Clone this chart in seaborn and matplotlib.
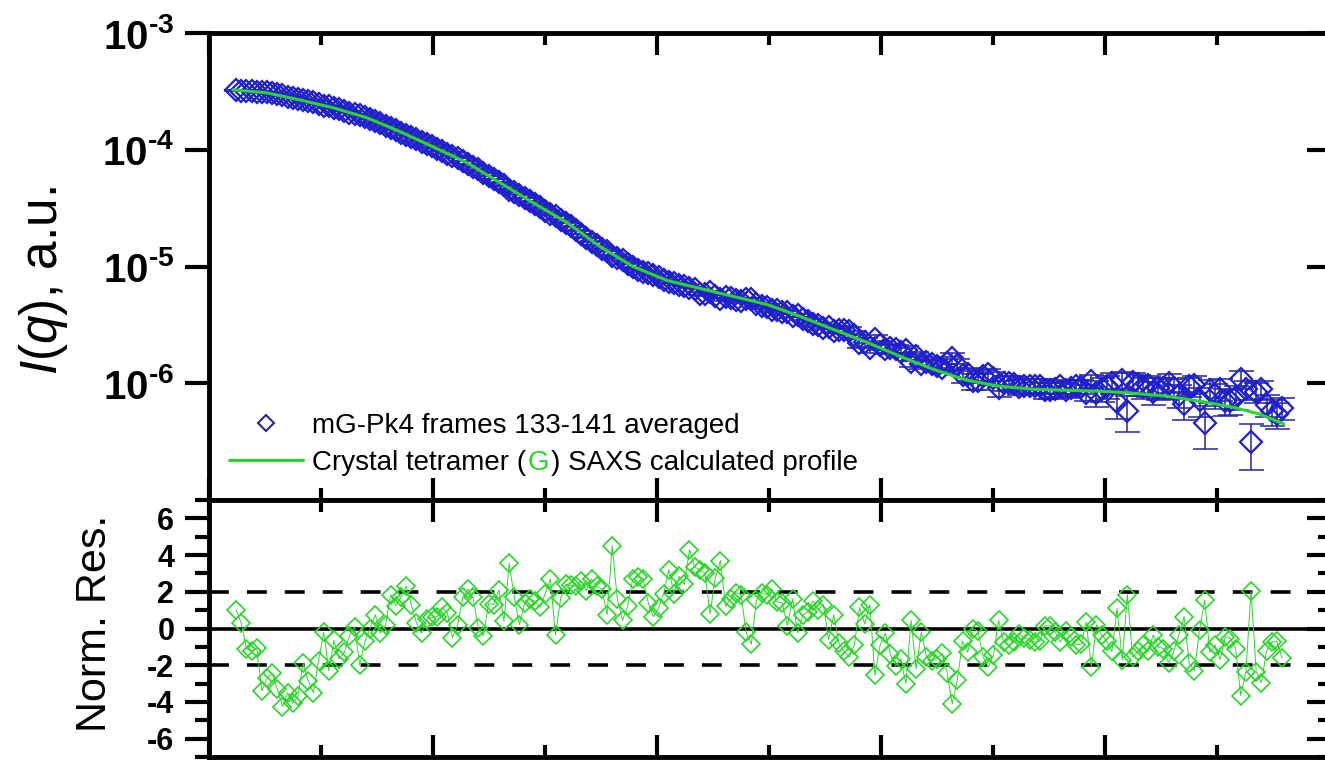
import numpy as np
import matplotlib
matplotlib.use("Agg")
import matplotlib.pyplot as plt
import seaborn as sns
from matplotlib.lines import Line2D
from matplotlib.ticker import FixedLocator, NullLocator

# ---------------- data ----------------
# scattering vector q (1/Angstrom) of the averaged frames
q = [
    0.0121, 0.0144, 0.0167, 0.0190, 0.0213, 0.0236, 0.0259, 0.0282, 0.0305, 0.0328,
    0.0351, 0.0374, 0.0397, 0.0420, 0.0443, 0.0466, 0.0489, 0.0512, 0.0535, 0.0558,
    0.0581, 0.0604, 0.0627, 0.0650, 0.0673, 0.0696, 0.0719, 0.0742, 0.0765, 0.0788,
    0.0811, 0.0834, 0.0857, 0.0880, 0.0903, 0.0926, 0.0949, 0.0972, 0.0995, 0.1018,
    0.1041, 0.1064, 0.1087, 0.1110, 0.1133, 0.1156, 0.1179, 0.1202, 0.1225, 0.1248,
    0.1271, 0.1294, 0.1317, 0.1340, 0.1363, 0.1386, 0.1409, 0.1432, 0.1455, 0.1478,
    0.1501, 0.1524, 0.1547, 0.1570, 0.1593, 0.1616, 0.1639, 0.1662, 0.1685, 0.1708,
    0.1731, 0.1754, 0.1777, 0.1800, 0.1823, 0.1846, 0.1869, 0.1892, 0.1915, 0.1938,
    0.1961, 0.1984, 0.2007, 0.2030, 0.2053, 0.2076, 0.2099, 0.2122, 0.2145, 0.2168,
    0.2191, 0.2214, 0.2237, 0.2260, 0.2283, 0.2306, 0.2329, 0.2352, 0.2375, 0.2398,
    0.2421, 0.2444, 0.2467, 0.2490, 0.2513, 0.2536, 0.2559, 0.2582, 0.2605, 0.2628,
    0.2651, 0.2674, 0.2697, 0.2720, 0.2743, 0.2766, 0.2789, 0.2812, 0.2835, 0.2858,
    0.2881, 0.2904, 0.2927, 0.2950, 0.2973, 0.2996, 0.3019, 0.3042, 0.3065, 0.3088,
    0.3111, 0.3134, 0.3157, 0.3180, 0.3203, 0.3226, 0.3249, 0.3272, 0.3295, 0.3318,
    0.3341, 0.3364, 0.3387, 0.3410, 0.3433, 0.3456, 0.3479, 0.3502, 0.3525, 0.3548,
    0.3571, 0.3594, 0.3617, 0.3640, 0.3663, 0.3686, 0.3709, 0.3732, 0.3755, 0.3778,
    0.3801, 0.3824, 0.3847, 0.3870, 0.3893, 0.3916, 0.3939, 0.3962, 0.3985, 0.4008,
    0.4031, 0.4054, 0.4077, 0.4100, 0.4123, 0.4146, 0.4169, 0.4192, 0.4215, 0.4238,
    0.4261, 0.4284, 0.4307, 0.4330, 0.4353, 0.4376, 0.4399, 0.4422, 0.4445, 0.4468,
    0.4491, 0.4514, 0.4537, 0.4560, 0.4583, 0.4606, 0.4629, 0.4652, 0.4675, 0.4698,
    0.4721, 0.4744, 0.4767, 0.4790,
]

# log10 of the measured intensity I(q)
log_intensity = [
    -3.491, -3.494, -3.495, -3.499, -3.503, -3.503, -3.508, -3.518, -3.526, -3.534,
    -3.545, -3.553, -3.563, -3.576, -3.585, -3.594, -3.608, -3.622, -3.628, -3.643,
    -3.653, -3.667, -3.681, -3.695, -3.705, -3.720, -3.737, -3.757, -3.775, -3.793,
    -3.815, -3.833, -3.853, -3.874, -3.892, -3.911, -3.930, -3.951, -3.971, -3.991,
    -4.013, -4.033, -4.052, -4.073, -4.097, -4.120, -4.145, -4.169, -4.195, -4.224,
    -4.251, -4.280, -4.304, -4.341, -4.362, -4.384, -4.414, -4.442, -4.468, -4.492,
    -4.521, -4.549, -4.565, -4.598, -4.626, -4.657, -4.689, -4.722, -4.752, -4.786,
    -4.817, -4.846, -4.868, -4.908, -4.925, -4.948, -4.976, -5.008, -5.027, -5.044,
    -5.059, -5.074, -5.094, -5.115, -5.135, -5.141, -5.155, -5.164, -5.181, -5.189,
    -5.232, -5.239, -5.220, -5.256, -5.281, -5.257, -5.272, -5.288, -5.297, -5.280,
    -5.282, -5.325, -5.340, -5.350, -5.369, -5.375, -5.391, -5.390, -5.422, -5.417,
    -5.446, -5.466, -5.491, -5.501, -5.523, -5.515, -5.550, -5.547, -5.543, -5.552,
    -5.585, -5.656, -5.649, -5.695, -5.617, -5.674, -5.710, -5.699, -5.703, -5.730,
    -5.717, -5.818, -5.769, -5.836, -5.819, -5.832, -5.849, -5.871, -5.826, -5.784,
    -5.840, -5.933, -5.922, -5.983, -5.985, -5.936, -5.925, -5.957, -6.044, -5.998,
    -5.996, -6.006, -6.028, -6.023, -6.023, -6.020, -6.024, -6.061, -6.062, -6.048,
    -6.027, -6.054, -6.042, -6.025, -6.028, -6.080, -5.983, -6.081, -6.045, -6.025,
    -5.995, -6.161, -5.975, -6.234, -5.989, -6.009, -6.034, -6.017, -6.076, -6.040,
    -6.038, -5.998, -6.041, -6.102, -6.181, -6.025, -6.011, -6.144, -6.342, -6.060,
    -6.099, -6.047, -6.152, -6.151, -6.117, -5.966, -6.053, -6.505, -6.075, -6.053,
    -6.183, -6.240, -6.263, -6.212,
]

# relative error of each intensity point, in percent
rel_error_pct = [
    0.4, 0.4, 0.4, 0.4, 0.4, 0.4, 0.4, 0.4, 0.4, 0.4,
    0.4, 0.4, 0.4, 0.4, 0.4, 0.4, 0.4, 0.4, 0.4, 0.4,
    0.4, 0.4, 0.4, 0.4, 0.4, 0.4, 0.4, 0.4, 0.4, 0.4,
    0.4, 0.4, 0.4, 0.4, 0.4, 0.4, 0.4, 0.4, 0.4, 0.4,
    0.4, 0.4, 0.4, 0.4, 0.4, 0.4, 0.4, 0.4, 0.4, 0.4,
    0.4, 0.4, 0.8, 0.8, 0.8, 0.8, 0.8, 0.8, 0.8, 0.8,
    0.8, 0.8, 0.8, 0.8, 0.8, 0.8, 0.8, 0.8, 0.8, 0.8,
    0.8, 0.8, 0.8, 0.8, 0.8, 0.8, 0.8, 0.8, 0.8, 0.8,
    0.8, 0.8, 0.8, 0.8, 0.8, 0.8, 0.8, 0.8, 0.8, 0.8,
    3.3, 3.3, 3.1, 3.3, 3.4, 3.1, 3.2, 3.2, 3.2, 3.0,
    2.9, 3.2, 3.2, 3.2, 3.2, 3.1, 3.1, 3.0, 3.2, 3.0,
    3.1, 3.1, 3.1, 3.1, 3.1, 3.0, 3.1, 2.9, 8.4, 8.3,
    8.6, 9.6, 9.2, 9.8, 7.8, 8.6, 8.9, 8.3, 8.0, 8.3,
    7.7, 9.3, 8.0, 8.9, 8.3, 8.1, 8.3, 8.4, 12.2, 10.7,
    11.7, 14.1, 13.4, 15.0, 14.9, 13.1, 12.5, 13.1, 15.8, 14.0,
    13.8, 14.0, 14.6, 14.3, 14.1, 14.0, 14.1, 15.3, 15.3, 14.7,
    14.0, 14.9, 14.4, 13.8, 13.8, 15.6, 12.5, 24.8, 22.8, 21.6,
    20.0, 29.1, 18.9, 34.1, 19.2, 20.0, 21.0, 20.0, 22.8, 20.7,
    20.4, 18.5, 20.0, 22.8, 26.9, 18.5, 17.6, 28.0, 40.0, 22.0,
    24.0, 21.0, 26.0, 25.0, 23.0, 18.0, 19.0, 42.0, 19.0, 17.0,
    22.0, 25.0, 25.0, 21.0,
]

# normalised residuals of the calculated profile against the data
norm_residual = [
    1.0, 0.3, -1.1, -1.25, -1.05, -3.4, -2.7, -2.45, -3.3, -4.25,
    -3.5, -4.07, -3.7, -1.9, -2.85, -3.5, -1.75, -0.2, -2.3, -0.65,
    -1.65, -1.3, -0.4, 0.1, -2.0, -0.7, 0.0, 0.75, -0.25, 0.2,
    1.85, 1.25, 1.7, 2.3, 1.3, 0.3, -0.25, 0.5, 0.6, 0.65,
    1.15, 0.85, -0.5, 0.2, 1.7, 2.15, 1.7, 0.05, -0.4, 1.35,
    1.3, 2.1, 0.4, 3.55, 1.7, 0.2, 1.4, 1.6, 1.5, 1.15,
    1.9, 2.7, -0.35, 1.65, 2.4, 2.35, 2.3, 2.6, 2.05, 2.7,
    2.3, 2.15, 0.75, 4.5, 1.6, 0.45, 1.2, 2.7, 2.8, 2.7,
    1.4, 0.65, 1.1, 1.9, 3.2, 1.9, 2.85, 2.4, 4.3, 3.35,
    3.2, 3.0, 0.8, 2.75, 3.7, 1.2, 1.6, 1.95, 1.85, -0.2,
    -0.85, 1.55, 1.95, 1.85, 2.15, 1.45, 1.4, 0.15, 1.6, -0.25,
    0.75, 0.9, 1.5, 1.0, 1.3, -0.6, 0.75, -0.8, -1.25, -1.55,
    -0.9, 1.15, 0.25, 1.3, -2.55, -0.9, -0.25, -1.4, -2.05, -1.65,
    -3.0, 0.45, -2.2, -0.2, -1.55, -1.75, -1.65, -1.35, -2.4, -4.1,
    -2.8, -0.7, -1.3, 0.0, -0.15, -1.55, -2.1, -1.45, 0.45, -0.75,
    -0.9, -0.75, -0.3, -0.5, -0.6, -0.75, -0.7, 0.15, 0.15, -0.2,
    -0.75, -0.15, -0.45, -0.9, -0.85, 0.35, -2.1, 0.2, -0.35, -0.7,
    -1.25, 1.1, -1.7, 1.85, -1.55, -1.25, -0.9, -1.25, -0.35, -1.0,
    -1.1, -1.9, -1.25, -0.35, 0.65, -1.9, -2.3, -0.1, 1.55, -1.3,
    -0.9, -1.7, -0.45, -0.55, -1.1, -3.65, -2.35, 2.05, -2.35, -2.95,
    -1.25, -0.75, -0.7, -1.6,
]

# calculated SAXS profile of the crystal tetramer
q_model = [
    0.0107, 0.0259, 0.0406, 0.0554, 0.0705, 0.0853, 0.1000, 0.1152, 0.1299, 0.1446,
    0.1598, 0.1746, 0.1893, 0.2045, 0.2192, 0.2339, 0.2491, 0.2638, 0.2786, 0.2938,
    0.3085, 0.3232, 0.3384, 0.3531, 0.3679, 0.3830, 0.3978, 0.4125, 0.4277, 0.4424,
    0.4571, 0.4692, 0.4799,
]
intensity_model = [
    3.26e-4, 3.07e-4, 2.67e-4, 2.29e-4, 1.88e-4, 1.43e-4, 1.06e-4, 7.74e-5, 5.22e-5, 3.52e-5,
    2.38e-5, 1.48e-5, 1.00e-5, 7.59e-6, 6.49e-6, 5.55e-6, 4.73e-6, 3.74e-6, 2.90e-6, 2.24e-6,
    1.70e-6, 1.32e-6, 1.06e-6, 9.42e-7, 8.89e-7, 8.71e-7, 8.55e-7, 8.22e-7, 7.74e-7, 7.02e-7,
    6.24e-7, 5.43e-7, 4.47e-7,
]

# axis ticks and labels
intensity_ticks = [1e-6, 1e-5, 1e-4, 1e-3]
intensity_tick_labels = [r"$10^{\text{-}6}$", r"$10^{\text{-}5}$",
                         r"$10^{\text{-}4}$", r"$10^{\text{-}3}$"]
residual_ticks = [-6, -4, -2, 0, 2, 4, 6]
residual_tick_labels = ["-6", "-4", "-2", "0", "2", "4", "6"]
residual_minor_ticks = [-7, -5, -3, -1, 1, 3, 5, 7]
residual_bands = [-2, 2]
q_ticks = [0.0, 0.1, 0.2, 0.3, 0.4, 0.5]
q_minor_ticks = [0.05, 0.15, 0.25, 0.35, 0.45]

data_label = "mG-Pk4 frames 133-141 averaged"
model_label_parts = ["Crystal tetramer (", "G", ") SAXS calculated profile"]
intensity_ylabel = r"$\mathit{I}$($\mathit{q}$), a.u."
residual_ylabel = "Norm. Res."

# ---------------- style ----------------
BLUE = "#1f1fd2"
NAVY = "#25259e"
GREEN = "#2bd62b"

sns.set_theme(style="ticks", rc={
    "axes.edgecolor": "black", "xtick.color": "black", "ytick.color": "black",
    "text.color": "black", "axes.labelcolor": "black",
    "axes.facecolor": "white", "figure.facecolor": "white",
})
plt.rcParams["font.family"] = ["Liberation Sans", "DejaVu Sans"]
plt.rcParams.update({
    "mathtext.fontset": "custom",
    "mathtext.rm": "Liberation Sans:bold",
    "mathtext.it": "Liberation Sans:italic",
    "mathtext.bf": "Liberation Sans:bold",
})

intensity = 10.0 ** np.asarray(log_intensity)
sigma = intensity * np.asarray(rel_error_pct) / 100.0

W, H = 1325, 760
fig = plt.figure(figsize=(W / 100, H / 100), dpi=100)


def px_box(x0, y0, x1, y1):
    return [x0 / W, 1 - y1 / H, (x1 - x0) / W, (y1 - y0) / H]


ax_top = fig.add_axes(px_box(209, 33, 1329, 500))
ax_res = fig.add_axes(px_box(209, 500, 1329, 757), sharex=ax_top)
tw_top = ax_top.twinx()
tw_res = ax_res.twinx()

SPINE_W = 3.5
TICK_W = 3.0

# ---------------- intensity panel ----------------
ax_top.set_yscale("log")
ax_top.set_xlim(0.0, 0.5)
ax_top.set_ylim(1e-7, 1e-3)

ax_top.errorbar(q, intensity, yerr=sigma, fmt="none", ecolor=NAVY,
                elinewidth=1.1, capsize=9, capthick=1.1, zorder=2)
sns.lineplot(x=q, y=intensity, ax=ax_top, estimator=None, sort=False,
             color=BLUE, linestyle="", marker="D", markersize=11.5,
             markerfacecolor="none", markeredgecolor=BLUE,
             markeredgewidth=1.6, zorder=3)
sns.lineplot(x=q_model, y=intensity_model, ax=ax_top, estimator=None,
             sort=False, color=GREEN, linewidth=2.2, zorder=4)

ax_top.set_yticks(intensity_ticks, labels=intensity_tick_labels, fontsize=29)
ax_top.yaxis.set_minor_locator(NullLocator())
ax_top.tick_params(axis="y", which="major", direction="out", left=True,
                   right=False, length=17, width=TICK_W, pad=8)
ax_top.set_ylabel(intensity_ylabel, fontsize=37)
ax_top.yaxis.set_label_coords((44 - 209) / 1120, (500 - 281) / 467)
ax_top.yaxis.label.set_va("center")

tw_top.set_yscale("log")
tw_top.set_ylim(1e-7, 1e-3)
tw_top.set_yticks(intensity_ticks, labels=[])
tw_top.yaxis.set_minor_locator(NullLocator())
tw_top.tick_params(axis="y", which="major", direction="in", length=16,
                   width=TICK_W, labelright=False, right=True)

handles = [
    Line2D([], [], linestyle="none", marker="D", markersize=8.5,
           markerfacecolor="none", markeredgecolor=NAVY, markeredgewidth=1.5),
    Line2D([], [], color=GREEN, linewidth=2.2),
]
leg = ax_top.legend(handles, [data_label, model_label_parts[0]],
                    loc="lower left", bbox_to_anchor=(0.0179, 0.051),
                    frameon=False, fontsize=20, handlelength=2.66,
                    handletextpad=0.32, labelspacing=0.42, borderpad=0,
                    borderaxespad=0)
prefix_text = leg.get_texts()[1]
g_text = ax_top.annotate(model_label_parts[1], xy=(1, 0), xycoords=prefix_text,
                         xytext=(1.2, 0), textcoords="offset points",
                         ha="left", va="bottom", fontsize=20, color=GREEN,
                         zorder=6)
ax_top.annotate(model_label_parts[2], xy=(1, 0), xycoords=g_text,
                xytext=(1.0, 0), textcoords="offset points",
                ha="left", va="bottom", fontsize=20, color="black", zorder=6)

# ---------------- residual panel ----------------
ax_res.set_ylim(-7, 7)
ax_res.axhline(0, color="black", linewidth=2.6, zorder=1)
for level in residual_bands:
    ax_res.axhline(level, color="black", linewidth=2.6, dashes=(5.5, 5.0),
                   zorder=1)
sns.lineplot(x=q, y=norm_residual, ax=ax_res, estimator=None, sort=False,
             color=GREEN, linewidth=0.7, marker="D", markersize=9.5,
             markerfacecolor="none", markeredgecolor=GREEN,
             markeredgewidth=1.2, zorder=3)

ax_res.set_yticks(residual_ticks, labels=residual_tick_labels, fontsize=22,
                  fontweight="bold")
ax_res.set_yticks(residual_minor_ticks, minor=True)
ax_res.tick_params(axis="y", which="both", direction="out", left=True,
                   right=False, width=TICK_W, pad=8)
ax_res.tick_params(axis="y", which="major", length=17)
ax_res.tick_params(axis="y", which="minor", length=10)
ax_res.set_ylabel(residual_ylabel, fontsize=31)
ax_res.yaxis.set_label_coords((95 - 209) / 1120, (757 - 623) / 257)
ax_res.yaxis.label.set_va("center")

tw_res.set_ylim(-7, 7)
tw_res.set_yticks(residual_ticks, labels=[])
tw_res.set_yticks(residual_minor_ticks, minor=True)
tw_res.tick_params(axis="y", which="both", direction="in", width=TICK_W,
                   labelright=False, right=True)
tw_res.tick_params(axis="y", which="major", length=16)
tw_res.tick_params(axis="y", which="minor", length=8)

# ---------------- shared x axis and frames ----------------
for ax in (ax_top, ax_res):
    ax.xaxis.set_major_locator(FixedLocator(q_ticks))
    ax.xaxis.set_minor_locator(FixedLocator(q_minor_ticks))
    ax.tick_params(axis="x", which="both", direction="in", top=True,
                   bottom=True, labelbottom=False, labeltop=False,
                   width=TICK_W)
    ax.tick_params(axis="x", which="major", length=16)
    ax.tick_params(axis="x", which="minor", length=8.6)
    ax.set_xlabel("")
    for spine in ax.spines.values():
        spine.set_linewidth(SPINE_W)
        spine.set_color("black")
for tw in (tw_top, tw_res):
    tw.set_ylabel("")
    for spine in tw.spines.values():
        spine.set_visible(False)

fig.canvas.draw()
fig.savefig("out.png", dpi=100, facecolor="white")
